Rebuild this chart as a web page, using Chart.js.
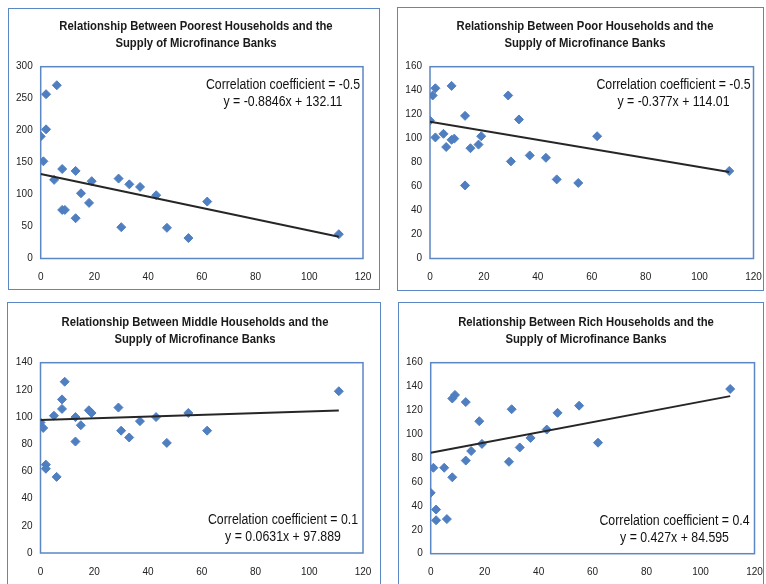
<!DOCTYPE html>
<html>
<head>
<meta charset="utf-8">
<script src="https://cdn.jsdelivr.net/npm/chart.js@4.4.0/dist/chart.umd.min.js"></script>
<style>
  body { margin: 0; background: #fff; width: 766px; height: 584px; overflow: hidden; position: relative; }
  .panel { position: absolute; }
  .panel canvas { position: absolute; left: 0; top: 0; }
  .frame { position: absolute; border: 1.5px solid #5b87c4; box-sizing: border-box; pointer-events: none; }
</style>
</head>
<body>
<div class="panel" id="p0"><canvas id="c0"></canvas></div>
<div class="panel" id="p1"><canvas id="c1"></canvas></div>
<div class="panel" id="p2"><canvas id="c2"></canvas></div>
<div class="panel" id="p3"><canvas id="c3"></canvas></div>
<div class="frame" id="f0"></div>
<div class="frame" id="f1"></div>
<div class="frame" id="f2"></div>
<div class="frame" id="f3"></div>
<script>
// x: supply of microfinance banks (same for every panel)
const banks = [0, 1, 2, 2, 5, 6, 8, 8, 9, 13, 13, 15, 18, 19, 29, 30, 33, 37, 43, 47, 55, 62, 111];

// y values per household group
const poorest = [191, 152, 202, 257, 123, 271, 140, 76, 76, 137, 63, 102, 87, 121, 125, 49, 116, 112, 99, 48, 32, 89, 38];
const poor    = [115, 136, 101, 142, 104, 93, 144, 99, 100, 119, 61, 92, 95, 102, 136, 81, 116, 86, 84, 66, 63, 102, 73];
const middle  = [96, 92, 65, 62, 101, 56, 113, 106, 126, 100, 82, 94, 105, 103, 107, 90, 85, 97, 100, 81, 103, 90, 119];
const rich    = [51, 72, 37, 28, 72, 29, 64, 130, 133, 127, 78, 86, 111, 92, 77, 121, 89, 97, 104, 118, 124, 93, 138];

const groups = ['Poorest', 'Poor', 'Middle', 'Rich'];
const slopes = [-0.8846, -0.377, 0.0631, 0.427];
const intercepts = [132.11, 114.01, 97.889, 84.595];
const correlations = ['-0.5', '-0.5', '0.1', '0.4'];
const equations = ['y = -0.8846x + 132.11', 'y = -0.377x + 114.01', 'y = 0.0631x + 97.889', 'y = 0.427x + 84.595'];
const yMax = [300, 160, 140, 160];
const yStep = [50, 20, 20, 20];
const xTicks = [0, 20, 40, 60, 80, 100, 120];

const series = [poorest, poor, middle, rich];

// layout of each panel: frame box, chart area inside it, where the equation box sits
const layout = [
  { left: 8,   top: 8,   w: 372, h: 282, area: [32.7, 58.7, 355, 250.5], note: 'top' },
  { left: 397, top: 7,   w: 367, h: 284, area: [33, 59.7, 356.5, 251.5], note: 'top' },
  { left: 7,   top: 302, w: 374, h: 292, area: [33.5, 60.7, 356, 251], note: 'bottom' },
  { left: 398, top: 302, w: 366, h: 292, area: [32.7, 60.7, 356.5, 251.7], note: 'bottom' }
];

const blue = '#4f7fc0';
const frameBlue = '#5b87c4';
const tickFont = { family: '"Liberation Sans", Arial, sans-serif', size: 10 };

// text squeezed sideways, like the narrow text in the original
function narrowText(ctx, text, x, y, sx) {
  ctx.save();
  ctx.translate(x, y);
  ctx.scale(sx, 1);
  ctx.fillText(text, 0, 0);
  ctx.restore();
}

const decor = {
  id: 'decor',
  beforeDatasetsDraw(chart) {
    const { ctx, chartArea: a } = chart;
    ctx.save();
    ctx.strokeStyle = frameBlue;
    ctx.lineWidth = 1.5;
    ctx.strokeRect(a.left, a.top, a.right - a.left, a.bottom - a.top);
    ctx.restore();
  },
  afterDraw(chart, args, opts) {
    const { ctx, chartArea: a } = chart;
    ctx.save();
    ctx.fillStyle = '#1a1a1a';
    ctx.textAlign = 'center';
    ctx.textBaseline = 'middle';
    ctx.font = 'bold 12px "Liberation Sans", Arial, sans-serif';
    narrowText(ctx, opts.title[0], 188, a.top - 40, 0.94);
    narrowText(ctx, opts.title[1], 188, a.top - 23, 0.94);

    ctx.font = '14px "Liberation Sans", Arial, sans-serif';
    ctx.fillStyle = '#111';
    const cx = a.right - 80;
    const y1 = opts.note === 'top' ? a.top + 18 : a.bottom - 33;
    narrowText(ctx, opts.lines[0], cx, y1, 0.88);
    narrowText(ctx, opts.lines[1], cx, y1 + 17, 0.88);
    ctx.restore();
  }
};

series.forEach((ys, i) => {
  const L = layout[i];
  const panel = document.getElementById('p' + i);
  const frame = document.getElementById('f' + i);
  [panel, frame].forEach(el => {
    el.style.left = L.left + 'px';
    el.style.top = L.top + 'px';
    el.style.width = L.w + 'px';
    el.style.height = L.h + 'px';
  });
  const canvas = document.getElementById('c' + i);
  canvas.width = L.w;
  canvas.height = L.h;

  const [aL, aT, aR, aB] = L.area;
  const yW = 30, xH = 28;
  const xMin = Math.min(...banks), xMax = Math.max(...banks);

  new Chart(canvas, {
    type: 'scatter',
    data: {
      datasets: [
        {
          type: 'line',
          label: 'Trend',
          data: [
            { x: xMin, y: slopes[i] * xMin + intercepts[i] },
            { x: xMax, y: slopes[i] * xMax + intercepts[i] }
          ],
          borderColor: '#262626',
          borderWidth: 2,
          pointRadius: 0,
          fill: false
        },
        {
          label: groups[i] + ' Households',
          data: banks.map((x, j) => ({ x: x, y: ys[j] })),
          backgroundColor: blue,
          borderColor: blue,
          pointStyle: 'rectRot',
          pointRadius: 4.5,
          borderWidth: 1
        }
      ]
    },
    options: {
      responsive: false,
      animation: false,
      layout: { padding: { left: aL - yW, top: aT, right: L.w - aR, bottom: L.h - aB - xH } },
      plugins: {
        legend: { display: false },
        tooltip: { enabled: false },
        decor: {
          title: ['Relationship Between ' + groups[i] + ' Households and the', 'Supply of Microfinance Banks'],
          lines: ['Correlation coefficient = ' + correlations[i], equations[i]],
          note: L.note
        }
      },
      scales: {
        x: {
          type: 'linear', min: 0, max: 120,
          grid: { display: false, drawTicks: false },
          border: { display: false },
          afterBuildTicks: s => { s.ticks = xTicks.map(v => ({ value: v })); },
          afterFit: s => { s.height = xH; s.paddingLeft = 0; s.paddingRight = 0; },
          ticks: { font: tickFont, color: '#222', padding: 13, maxRotation: 0 }
        },
        y: {
          min: 0, max: yMax[i],
          grid: { display: false, drawTicks: false },
          border: { display: false },
          afterFit: s => { s.width = yW; s.paddingTop = 0; s.paddingBottom = 0; },
          ticks: { stepSize: yStep[i], font: tickFont, color: '#222', padding: 8 }
        }
      }
    },
    plugins: [decor]
  });
});
</script>
</body>
</html>
